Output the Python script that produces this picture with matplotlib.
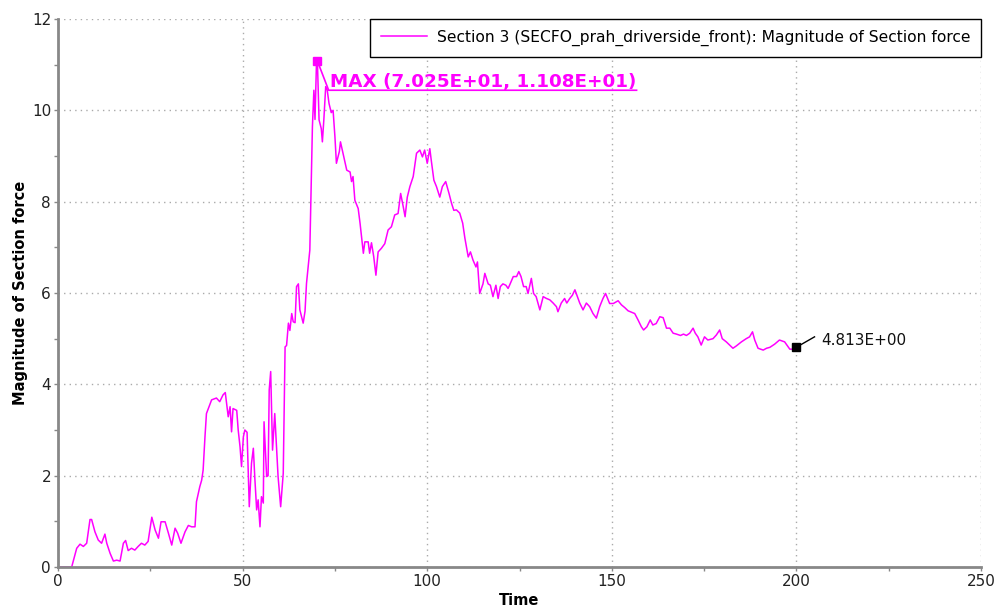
import matplotlib
matplotlib.use('Agg')
import matplotlib.pyplot as plt
from matplotlib.ticker import MultipleLocator

# Section force curve (time, magnitude)
time = [0, 3.7, 5.06, 5.96, 6.86, 7.76, 8.66, 9.1, 10.0, 10.9,
        11.8, 12.7, 13.2, 14.1, 15.0, 15.9, 16.8, 17.7, 18.3, 19.0,
        19.9, 20.8, 21.7, 22.6, 23.5, 24.4, 25.4, 26.3, 27.2, 27.9,
        29.0, 29.9, 30.8, 31.7, 32.4, 33.3, 34.4, 35.3, 36.2, 37.1,
        37.5, 38.4, 38.9, 39.3, 39.8, 40.2, 41.6, 42.9, 43.8, 44.7,
        45.3, 46.1, 46.6, 47.0, 47.4, 48.4, 48.8, 49.3, 49.7, 50.2,
        50.6, 51.2, 51.8, 52.4, 52.9, 53.3, 53.8, 54.2, 54.7, 55.1,
        55.6, 55.8, 56.5, 56.9, 57.2, 57.6, 58.1, 58.7, 59.2, 59.6,
        60.3, 61.0, 61.5, 61.9, 62.4, 62.8, 63.3, 63.7, 64.2, 64.6,
        65.1, 65.5, 66.4, 66.9, 67.3, 68.2, 68.9, 69.3, 69.6, 70.0,
        70.25, 70.7, 71.3, 71.6, 72.0, 72.5, 72.9, 73.4, 74.0, 74.5,
        75.0, 75.4, 76.2, 76.5, 77.2, 78.2, 79.1, 79.5, 79.9, 80.4,
        81.3, 81.8, 82.7, 83.1, 84.0, 84.4, 84.9, 85.5, 86.1, 86.7,
        87.6, 88.5, 89.4, 90.3, 91.2, 92.1, 92.8, 93.5, 94.0, 94.6,
        95.3, 96.2, 97.1, 98.0, 98.7, 99.3, 100.0, 100.7, 101.1, 101.8,
        102.5, 103.4, 104.1, 105.0, 105.9, 106.6, 107.2, 107.9, 108.8, 109.6,
        110.2, 111.1, 111.7, 112.4, 113.2, 113.6, 114.2, 115.1, 115.6, 116.5,
        117.1, 117.8, 118.6, 119.2, 119.8, 120.5, 121.3, 121.9, 122.3, 123.3,
        124.2, 124.8, 125.4, 126.1, 126.8, 127.3, 128.2, 128.8, 129.5, 130.5,
        131.4, 132.3, 133.2, 134.1, 135.0, 135.4, 136.3, 137.2, 137.8, 138.6,
        139.3, 140.0, 141.3, 142.2, 143.1, 144.0, 144.9, 145.8, 146.7, 147.6,
        148.3, 149.4, 150.4, 151.7, 152.6, 153.5, 154.4, 155.3, 156.2, 157.1,
        158.0, 158.6, 159.5, 160.4, 161.1, 162.0, 163.0, 163.9, 164.8, 165.7,
        166.6, 167.5, 168.6, 169.4, 170.2, 171.1, 172.0, 172.6, 173.3, 174.2,
        175.1, 176.0, 177.4, 178.3, 179.2, 179.9, 181.0, 181.9, 182.8, 183.7,
        185.1, 186.4, 187.3, 188.1, 188.7, 189.6, 191.0, 191.9, 192.8, 194.1,
        195.4, 196.8, 198.2, 199.1, 200.0]

force = [0, 0, 0.41, 0.50, 0.45, 0.52, 1.04, 1.04, 0.77, 0.59,
         0.52, 0.72, 0.52, 0.30, 0.13, 0.15, 0.13, 0.52, 0.58, 0.36,
         0.41, 0.37, 0.45, 0.52, 0.48, 0.56, 1.09, 0.81, 0.63, 0.99,
         0.99, 0.74, 0.48, 0.85, 0.74, 0.52, 0.77, 0.91, 0.88, 0.88,
         1.43, 1.76, 1.90, 2.12, 2.85, 3.36, 3.66, 3.70, 3.62, 3.77,
         3.82, 3.29, 3.51, 2.96, 3.47, 3.43, 3.0, 2.63, 2.20, 2.85,
         3.0, 2.95, 1.32, 2.27, 2.60, 1.95, 1.25, 1.47, 0.88, 1.54,
         1.40, 3.18, 1.98, 2.0, 3.88, 4.28, 2.56, 3.36, 2.6, 1.98,
         1.32, 2.05, 4.82, 4.85, 5.34, 5.18, 5.55, 5.37, 5.35, 6.14,
         6.2, 5.63, 5.34, 5.6, 6.21, 6.94, 9.64, 10.44, 9.8, 11.03,
         11.08, 9.79, 9.6, 9.31, 9.8, 10.52, 10.45, 10.15, 9.95, 10.0,
         9.42, 8.84, 9.1, 9.31, 9.05, 8.69, 8.65, 8.44, 8.55, 8.03,
         7.85, 7.53, 6.87, 7.12, 7.12, 6.87, 7.1, 6.8, 6.39, 6.9,
         6.98, 7.08, 7.38, 7.45, 7.71, 7.74, 8.18, 7.89, 7.67, 8.1,
         8.33, 8.55, 9.06, 9.13, 8.98, 9.13, 8.84, 9.16, 8.9, 8.47,
         8.33, 8.1, 8.33, 8.44, 8.18, 7.96, 7.81, 7.82, 7.75, 7.53,
         7.2, 6.79, 6.9, 6.72, 6.57, 6.68, 5.99, 6.2, 6.43, 6.2,
         6.17, 5.92, 6.17, 5.88, 6.14, 6.2, 6.17, 6.1, 6.17, 6.36,
         6.36, 6.47, 6.36, 6.14, 6.14, 5.99, 6.32, 5.99, 5.92, 5.63,
         5.92, 5.88, 5.85, 5.78, 5.7, 5.59, 5.78, 5.88, 5.78, 5.88,
         5.95, 6.07, 5.78, 5.63, 5.78, 5.7, 5.55, 5.45, 5.7, 5.88,
         5.99, 5.77, 5.77, 5.83, 5.74, 5.68, 5.61, 5.58, 5.55, 5.41,
         5.26, 5.19, 5.26, 5.41, 5.3, 5.33, 5.48, 5.46, 5.23, 5.23,
         5.12, 5.1, 5.07, 5.1, 5.07, 5.12, 5.23, 5.12, 5.04, 4.86,
         5.04, 4.97, 5.0, 5.08, 5.19, 5.0, 4.93, 4.86, 4.79, 4.84,
         4.93, 5.0, 5.04, 5.15, 4.97, 4.79, 4.75, 4.79, 4.81, 4.88,
         4.97, 4.93, 4.77, 4.77, 4.813]

max_point = (70.25, 11.08)
end_point = (200.0, 4.813)
max_label = 'MAX (7.025E+01, 1.108E+01)'
end_label = '4.813E+00'
legend_label = 'Section 3 (SECFO_prah_driverside_front): Magnitude of Section force'

magenta = '#ff00ff'

fig = plt.figure(figsize=(9.97, 6.07), dpi=100)
ax = fig.add_axes([0.0582, 0.0659, 0.9258, 0.9028])

ax.plot(time, force, color=magenta, lw=1.1, label=legend_label)

# max marker + underlined label
ax.plot([max_point[0]], [max_point[1]], 's', color=magenta, ms=6, zorder=5)
ax.plot([max_point[0], 73.3, 156.7], [max_point[1], 10.44, 10.44], color=magenta, lw=1.2)
ax.text(73.6, 10.51, max_label, color=magenta, fontsize=13.2, fontweight='bold', va='baseline')

# end value marker
ax.plot([end_point[0]], [end_point[1]], 's', color='black', ms=5.5, zorder=5)
ax.plot([end_point[0], 204.9], [end_point[1], 5.04], color='black', lw=1)
ax.text(206.8, 4.97, end_label, fontsize=11, va='center', color='#111111')

ax.set_xlim(0, 250)
ax.set_ylim(0, 12)
ax.xaxis.set_major_locator(MultipleLocator(50))
ax.xaxis.set_minor_locator(MultipleLocator(25))
ax.yaxis.set_major_locator(MultipleLocator(2))
ax.yaxis.set_minor_locator(MultipleLocator(1))

ax.grid(True, which='major', color='#aaaaaa', linestyle=(0, (1, 3)), lw=1)
for side in ['top', 'right']:
    ax.spines[side].set_visible(False)
for side in ['left', 'bottom']:
    ax.spines[side].set_color('#888888')
    ax.spines[side].set_linewidth(2)

ax.tick_params(which='major', length=3, width=1, color='#888888', labelsize=11,
               labelcolor='#222222', pad=2)
ax.tick_params(which='minor', length=3, width=1, color='#888888')

ax.set_xlabel('Time', fontsize=10.5, fontweight='bold', labelpad=3)
ax.set_ylabel('Magnitude of Section force', fontsize=10.5, fontweight='bold', labelpad=3)

leg = ax.legend(loc='upper right', bbox_to_anchor=(1.0, 1.0), borderaxespad=0,
                fancybox=False, edgecolor='black', framealpha=1, fontsize=11.2,
                handlelength=3.0, handletextpad=0.6, borderpad=0.7)
leg.get_frame().set_linewidth(1)

fig.savefig('out.png', dpi=100)
